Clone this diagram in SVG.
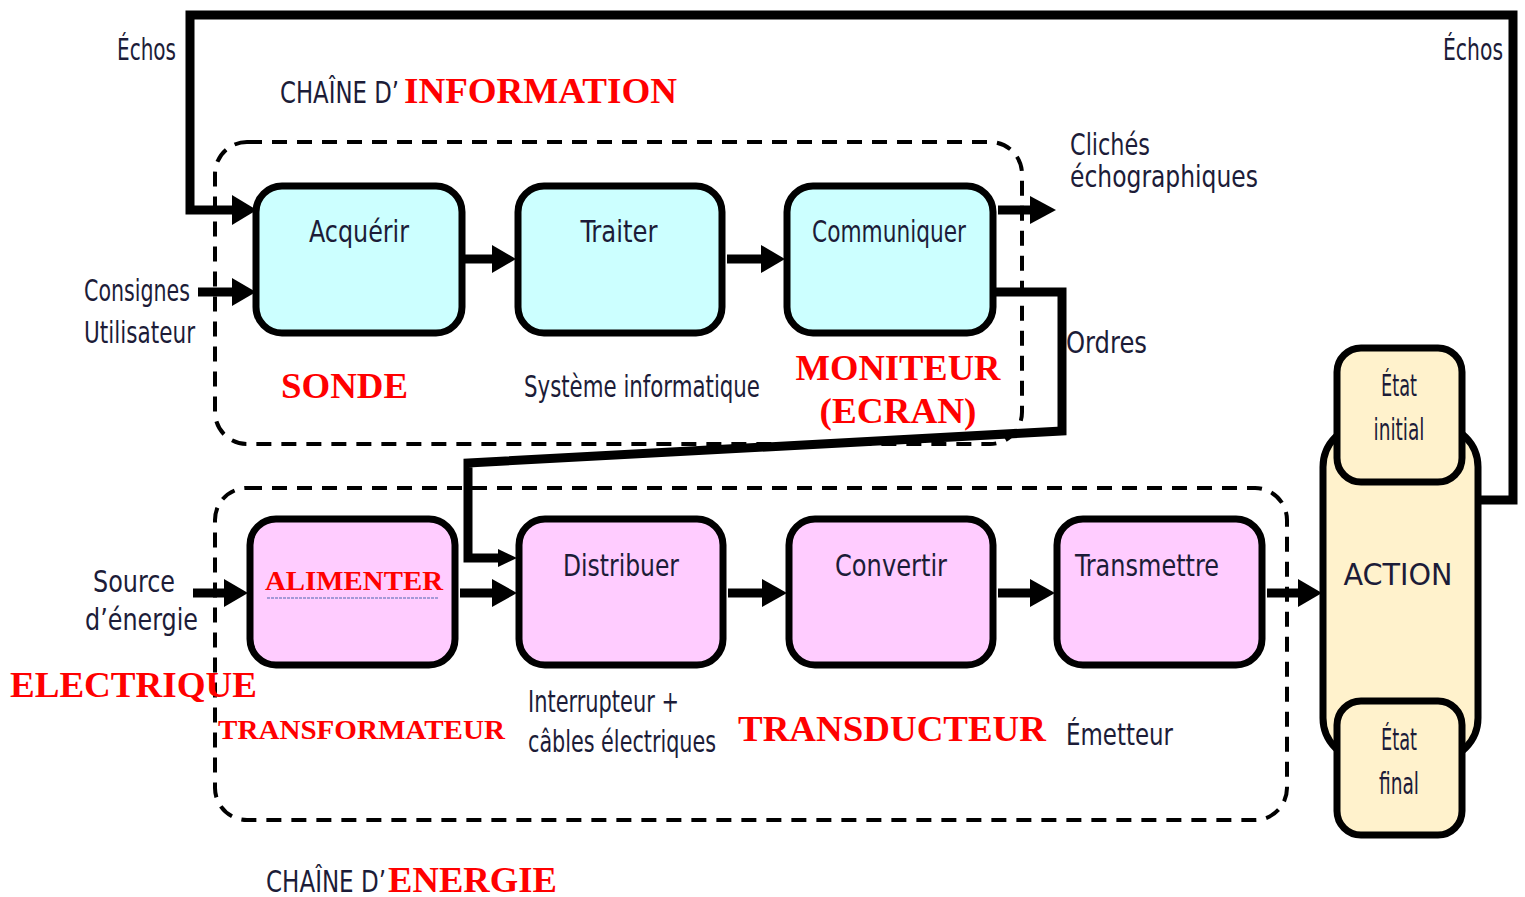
<svg xmlns="http://www.w3.org/2000/svg" width="1525" height="897" viewBox="0 0 1525 897">
<style>
.t{font-family:"DejaVu Sans Condensed","Liberation Sans",sans-serif;fill:#1c1c38;font-size:31px}
.r{font-family:"Liberation Serif","Times New Roman",serif;font-weight:bold;fill:#ff0000}
.dash{fill:none;stroke:#000;stroke-width:4;stroke-dasharray:15 10}
.cy{fill:#ccffff;stroke:#000;stroke-width:7}
.pk{fill:#ffccff;stroke:#000;stroke-width:7}
.ye{fill:#fff2cc;stroke:#000;stroke-width:7}
.ln{fill:none;stroke:#000;stroke-width:9}
.hd{fill:#000}
</style>
<rect width="1525" height="897" fill="#fff"/>
<g id="chain-info-frame">
<rect class="dash" x="215" y="142" width="807" height="302" rx="32"/>
</g>
<g id="chain-energie-frame">
<rect class="dash" x="215" y="488" width="1072" height="332" rx="32"/>
</g>
<rect x="815" y="395" width="197" height="38" fill="#fff"/>
<g id="connectors">
<polyline class="ln" stroke-width="8" points="1478,500 1513,500 1513,15 190,15 190,210 234,210"/>
<polygon class="hd" points="232,195 257,210 232,225"/>
<line class="ln" x1="198" y1="292" x2="234" y2="292"/>
<polygon class="hd" points="232,278 256,292 232,306"/>
<line class="ln" x1="462" y1="259" x2="494" y2="259"/>
<polygon class="hd" points="492,245 516,259 492,273"/>
<line class="ln" x1="727" y1="259" x2="763" y2="259"/>
<polygon class="hd" points="761,245 785,259 761,273"/>
<line class="ln" x1="998" y1="210" x2="1032" y2="210"/>
<polygon class="hd" points="1030,196 1056,210 1030,224"/>
<polyline class="ln" stroke-width="5" points="993,292 1062,292 1062,431 468,463 468,558 500,558"/>
<polygon class="hd" points="498,549 517,558 498,567"/>
<line class="ln" x1="193" y1="593" x2="226" y2="593"/>
<polygon class="hd" points="224,579 248,593 224,607"/>
<line class="ln" x1="460" y1="593" x2="494" y2="593"/>
<polygon class="hd" points="492,579 517,593 492,607"/>
<line class="ln" x1="728" y1="593" x2="764" y2="593"/>
<polygon class="hd" points="762,579 787,593 762,607"/>
<line class="ln" x1="998" y1="593" x2="1032" y2="593"/>
<polygon class="hd" points="1030,579 1055,593 1030,607"/>
<line class="ln" x1="1267" y1="593" x2="1300" y2="593"/>
<polygon class="hd" points="1298,579 1322,593 1298,607"/>
</g>
<g id="acquerir"><rect class="cy" x="256" y="186" width="206" height="147" rx="26"/><text class="t" x="359" y="242" text-anchor="middle" textLength="100" lengthAdjust="spacingAndGlyphs">Acquérir</text></g>
<g id="traiter"><rect class="cy" x="518" y="186" width="204" height="147" rx="26"/><text class="t" x="619" y="242" text-anchor="middle" textLength="77" lengthAdjust="spacingAndGlyphs">Traiter</text></g>
<g id="communiquer"><rect class="cy" x="787" y="186" width="206" height="147" rx="26"/><text class="t" x="889" y="242" text-anchor="middle" textLength="154" lengthAdjust="spacingAndGlyphs">Communiquer</text></g>
<g id="alimenter"><rect class="pk" x="250" y="519" width="205" height="146" rx="26"/><text class="r" x="354" y="590" font-size="28" text-anchor="middle" textLength="178" lengthAdjust="spacingAndGlyphs">ALIMENTER</text><line x1="267" y1="598" x2="438" y2="598" stroke="#8888cc" stroke-width="1.5" stroke-dasharray="3 1"/></g>
<g id="distribuer"><rect class="pk" x="519" y="519" width="204" height="146" rx="26"/><text class="t" x="621" y="576" text-anchor="middle" textLength="116" lengthAdjust="spacingAndGlyphs">Distribuer</text></g>
<g id="convertir"><rect class="pk" x="789" y="519" width="204" height="146" rx="26"/><text class="t" x="891" y="576" text-anchor="middle" textLength="112" lengthAdjust="spacingAndGlyphs">Convertir</text></g>
<g id="transmettre"><rect class="pk" x="1057" y="519" width="205" height="146" rx="26"/><text class="t" x="1147" y="576" text-anchor="middle" textLength="144" lengthAdjust="spacingAndGlyphs">Transmettre</text></g>
<g id="action"><rect class="ye" x="1323" y="425" width="155" height="335" rx="42"/><text class="t" x="1398" y="585" font-size="44" text-anchor="middle" textLength="109" lengthAdjust="spacingAndGlyphs">ACTION</text></g>
<g id="etat-initial"><rect class="ye" x="1337" y="348" width="125" height="134" rx="24"/><text class="t" x="1399" y="396" font-size="26" text-anchor="middle" textLength="36" lengthAdjust="spacingAndGlyphs">État</text><text class="t" x="1399" y="440" font-size="26" text-anchor="middle" textLength="51" lengthAdjust="spacingAndGlyphs">initial</text></g>
<g id="etat-final"><rect class="ye" x="1337" y="701" width="125" height="134" rx="24"/><text class="t" x="1399" y="750" font-size="26" text-anchor="middle" textLength="36" lengthAdjust="spacingAndGlyphs">État</text><text class="t" x="1399" y="794" font-size="26" text-anchor="middle" textLength="40" lengthAdjust="spacingAndGlyphs">final</text></g>
<g id="labels">
<text class="t" x="117" y="60" textLength="59" lengthAdjust="spacingAndGlyphs">Échos</text>
<text class="t" x="1443" y="60" textLength="60" lengthAdjust="spacingAndGlyphs">Échos</text>
<text class="t" x="280" y="103" textLength="119" lengthAdjust="spacingAndGlyphs">CHAÎNE D’</text>
<text class="r" x="404" y="103" font-size="36" textLength="273" lengthAdjust="spacingAndGlyphs">INFORMATION</text>
<text class="t" x="1070" y="155" textLength="80" lengthAdjust="spacingAndGlyphs">Clichés</text>
<text class="t" x="1070" y="187" textLength="188" lengthAdjust="spacingAndGlyphs">échographiques</text>
<text class="t" x="84" y="301" textLength="106" lengthAdjust="spacingAndGlyphs">Consignes</text>
<text class="t" x="84" y="343" textLength="111" lengthAdjust="spacingAndGlyphs">Utilisateur</text>
<text class="r" x="281" y="398" font-size="36" textLength="127" lengthAdjust="spacingAndGlyphs">SONDE</text>
<text class="t" x="524" y="397" font-size="29" textLength="236" lengthAdjust="spacingAndGlyphs">Système informatique</text>
<text class="r" x="898" y="380" font-size="36" text-anchor="middle" textLength="205" lengthAdjust="spacingAndGlyphs">MONITEUR</text>
<text class="r" x="898" y="423" font-size="36" text-anchor="middle" textLength="157" lengthAdjust="spacingAndGlyphs">(ECRAN)</text>
<text class="t" x="1066" y="353" textLength="81" lengthAdjust="spacingAndGlyphs">Ordres</text>
<text class="t" x="93" y="592" textLength="82" lengthAdjust="spacingAndGlyphs">Source</text>
<text class="t" x="85" y="630" textLength="113" lengthAdjust="spacingAndGlyphs">d’énergie</text>
<text class="r" x="10" y="697" font-size="36" textLength="247" lengthAdjust="spacingAndGlyphs">ELECTRIQUE</text>
<text class="r" x="218" y="739" font-size="28" textLength="287" lengthAdjust="spacingAndGlyphs">TRANSFORMATEUR</text>
<text class="t" x="528" y="712" font-size="29" textLength="151" lengthAdjust="spacingAndGlyphs">Interrupteur +</text>
<text class="t" x="528" y="752" font-size="29" textLength="188" lengthAdjust="spacingAndGlyphs">câbles électriques</text>
<text class="r" x="738" y="741" font-size="36" textLength="308" lengthAdjust="spacingAndGlyphs">TRANSDUCTEUR</text>
<text class="t" x="1066" y="745" textLength="107" lengthAdjust="spacingAndGlyphs">Émetteur</text>
<text class="t" x="266" y="892" textLength="120" lengthAdjust="spacingAndGlyphs">CHAÎNE D’</text>
<text class="r" x="388" y="892" font-size="36" textLength="169" lengthAdjust="spacingAndGlyphs">ENERGIE</text>
</g>
</svg>
